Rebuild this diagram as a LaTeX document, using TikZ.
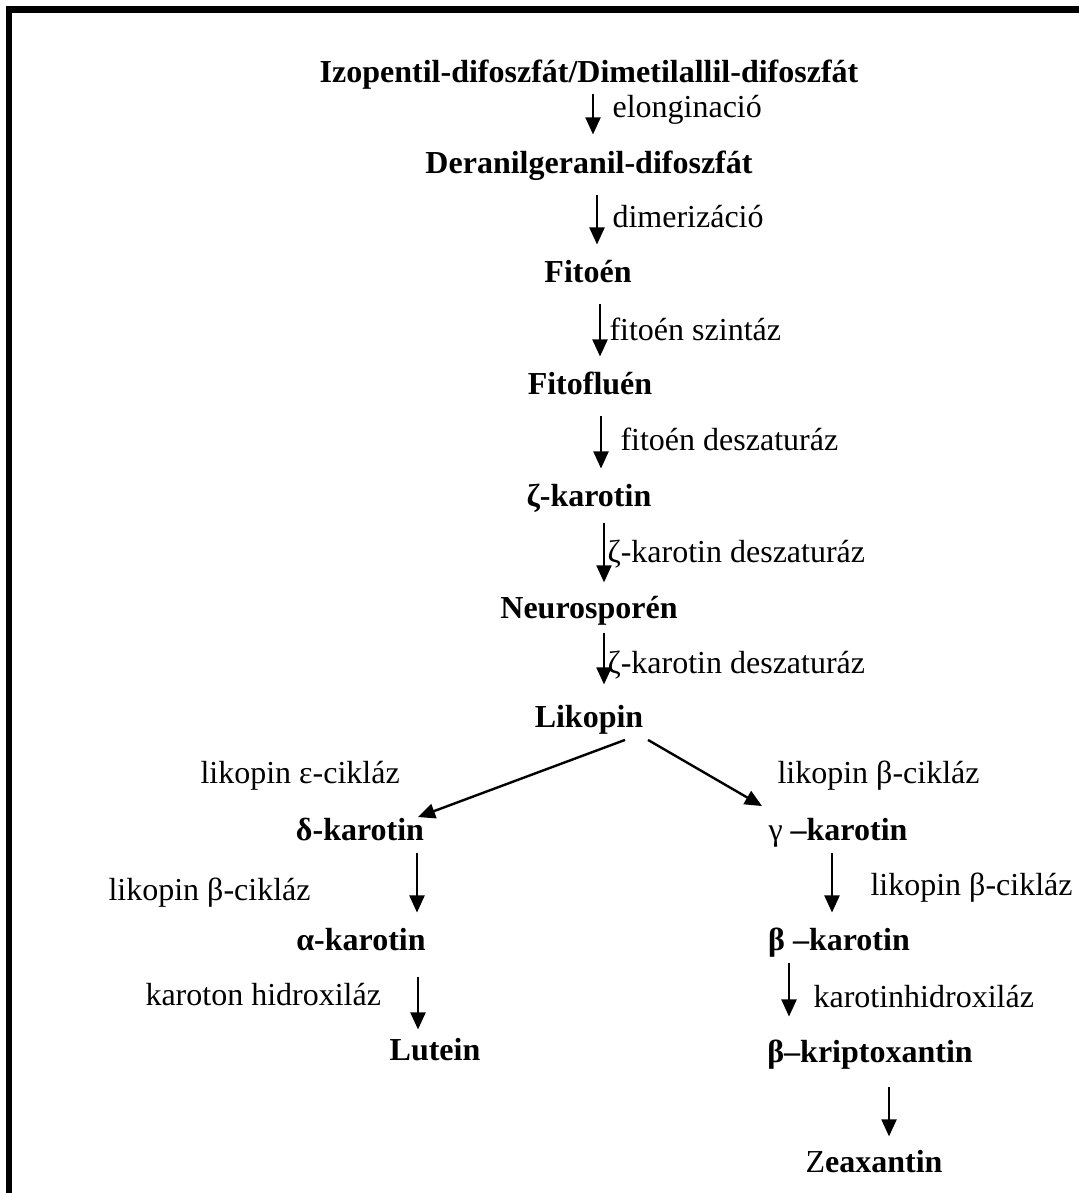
\documentclass[tikz,border=0pt]{standalone}
\usepackage{fontspec}
\setmainfont{Liberation Serif}
\usepackage{tikz}
\usetikzlibrary{arrows.meta,calc}

\tikzset{
  anyag/.style={font=\fontsize{12pt}{14pt}\selectfont\bfseries, inner sep=0pt, text height=9.3pt, text depth=1.5pt},
  enzim/.style={font=\fontsize{12pt}{14pt}\selectfont, anchor=west, inner sep=0pt, text height=9.3pt, text depth=1.5pt},
  nyil/.style={-{Triangle[width=5.6pt,length=6.4pt]}, line width=0.9pt, shorten <=6.5pt, shorten >=4.7pt}
}

\begin{document}
\begin{tikzpicture}[x=0.375pt, y=-0.375pt]
\useasboundingbox (0,0) rectangle (1078,1193);
% keret
\draw[line width=2.5pt, line join=miter] (9,1210) -- (9,9.5) -- (1090,9.5);

% anyagok
\node[anyag] (izo) at (589,72) {Izopentil-difoszfát/Dimetilallil-difoszfát};
\node[anyag] (geranil) at (589,163) {Deranilgeranil-difoszfát};
\node[anyag] (fitoen) at (588,272) {Fitoén};
\node[anyag] (fitofluen) at (590,384) {Fitofluén};
\node[anyag] (zkarotin) at (589,496) {ζ-karotin};
\node[anyag] (neuro) at (589,608) {Neurosporén};
\node[anyag] (likopin) at (589,717) {Likopin};
\node[anyag] (dkarotin) at (360,830) {δ-karotin};
\node[anyag] (gkarotin) at (838,830) {{\mdseries γ} –karotin};
\node[anyag] (akarotin) at (361,940) {α-karotin};
\node[anyag] (bkarotin) at (839,940) {β –karotin};
\node[anyag] (lutein) at (435,1050) {Lutein};
\node[anyag] (kripto) at (870,1052) {β–kriptoxantin};
\node[anyag] (zea) at (874,1162) {{\mdseries Z}eaxantin};

% enzimek
\node[enzim] (e1) at (612,107) {elonginació};
\node[enzim] (e2) at (612,217) {dimerizáció};
\node[enzim] (e3) at (609,330) {fitoén szintáz};
\node[enzim] (e4) at (620,440) {fitoén deszaturáz};
\node[enzim] (e5) at (607,552) {ζ-karotin deszaturáz};
\node[enzim] (e6) at (607,663) {ζ-karotin deszaturáz};
\node[enzim] (e7) at (200,773) {likopin ε-cikláz};
\node[enzim] (e8) at (777,773) {likopin β-cikláz};
\node[enzim] (e9) at (108,890) {likopin β-cikláz};
\node[enzim] (e10) at (870,885) {likopin β-cikláz};
\node[enzim] (e11) at (145,995) {karoton hidroxiláz};
\node[enzim] (e12) at (813,997) {karotinhidroxiláz};

% nyilak
\draw[nyil, shorten <=2.5pt, shorten >=5.1pt] (izo.south -| 593,0) -- (geranil.north -| 593,0);
\draw[nyil] (geranil.south -| 597,0) -- (fitoen.north -| 597,0);
\draw[nyil] (fitoen.south -| 600,0) -- (fitofluen.north -| 600,0);
\draw[nyil] (fitofluen.south -| 601,0) -- (zkarotin.north -| 601,0);
\draw[nyil, shorten <=4.7pt, shorten >=4pt] (zkarotin.south -| 604,0) -- (neuro.north -| 604,0);
\draw[nyil, shorten <=3.6pt, shorten >=6.6pt] (neuro.south -| 604,0) -- (likopin.north -| 604,0);
\draw[nyil, shorten <=0pt, shorten >=0pt] ($(likopin.south)+(36,8)$) -- ($(dkarotin.north)+(58,2)$);
\draw[nyil, shorten <=0pt, shorten >=0pt] ($(likopin.south)+(59,8)$) -- ($(gkarotin.north)+(-76,-9)$);
\draw[nyil, shorten <=2.85pt] (dkarotin.south -| 417,0) -- (akarotin.north -| 417,0);
\draw[nyil, shorten <=2.85pt] (gkarotin.south -| 832,0) -- (bkarotin.north -| 832,0);
\draw[nyil, shorten <=8.1pt, shorten >=2.1pt] (akarotin.south -| 418,0) -- (lutein.north -| 418,0);
\draw[nyil, shorten <=2.85pt, shorten >=7.7pt] (bkarotin.south -| 789,0) -- (kripto.north -| 789,0);
\draw[nyil, shorten <=7.7pt, shorten >=4pt] (kripto.south -| 889,0) -- (zea.north -| 889,0);
\end{tikzpicture}
\end{document}
